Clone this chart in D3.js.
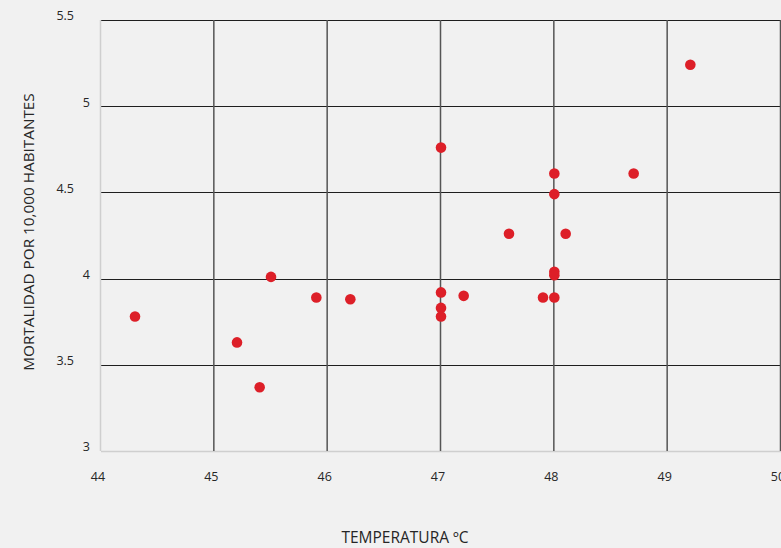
<!DOCTYPE html>
<html>
<head>
<meta charset="utf-8">
<script src="https://cdn.jsdelivr.net/npm/d3@7"></script>
<style>
  html, body { margin: 0; padding: 0; background: #f1f1f1; }
  svg { display: block; }
  text { font-family: "Open Sans", "Noto Sans", sans-serif; fill: #262626; }
</style>
</head>
<body>
<svg id="chart" width="781" height="548"></svg>
<script>
// Temperatura máxima (ºC) frente a mortalidad por 10,000 habitantes
const temperatura = [44.3, 45.2, 45.4, 45.5, 45.9, 46.2, 47.0, 47.0, 47.0, 47.0, 47.2,
                     47.6, 47.9, 48.0, 48.0, 48.1, 48.0, 48.0, 48.0, 48.7, 49.2];
const mortalidad  = [3.78, 3.63, 3.37, 4.01, 3.89, 3.88, 4.76, 3.92, 3.83, 3.78, 3.90,
                     4.26, 3.89, 4.61, 4.49, 4.26, 4.04, 4.02, 3.89, 4.61, 5.24];
const xTicks = [44, 45, 46, 47, 48, 49, 50];
const yTicks = [3, 3.5, 4, 4.5, 5, 5.5];
const xTitle = "TEMPERATURA ºC";
const yTitle = "MORTALIDAD POR 10,000 HABITANTES";

const svg = d3.select("#chart");
const plotLeft = 101, plotRight = 781, plotTop = 20, plotBottom = 451;

const x = d3.scaleLinear().domain([44, 50]).range([plotLeft, plotRight]);
const y = d3.scaleLinear().domain([3, 5.5]).range([plotBottom, plotTop]);

// horizontal grid lines
svg.append("g").selectAll("line")
  .data(yTicks)
  .join("line")
  .attr("x1", plotLeft).attr("x2", plotRight)
  .attr("y1", d => Math.round(y(d)) + 0.5).attr("y2", d => Math.round(y(d)) + 0.5)
  .attr("stroke", d => d === 3 ? "#cfcfcf" : "#1e1e1e")
  .attr("stroke-width", d => d === 3 ? 1.5 : 1);

// vertical grid lines
svg.append("g").selectAll("line")
  .data(xTicks)
  .join("line")
  .attr("x1", d => x(d) - 0.5).attr("x2", d => x(d) - 0.5)
  .attr("y1", plotTop).attr("y2", plotBottom)
  .attr("stroke", d => d === 44 ? "#cfcfcf" : "#555")
  .attr("stroke-width", 1.5);

// y tick labels
svg.append("g").selectAll("text")
  .data(yTicks)
  .join("text")
  .attr("x", d => Number.isInteger(d) ? 90 : 74)
  .attr("y", d => y(d) - 3)
  .attr("text-anchor", "end")
  .attr("dominant-baseline", "middle")
  .attr("font-size", 12.5)
  .text(d => d);

// x tick labels
svg.append("g").selectAll("text")
  .data(xTicks)
  .join("text")
  .attr("x", d => x(d) - 3)
  .attr("y", 481)
  .attr("text-anchor", "middle")
  .attr("font-size", 12.5)
  .text(d => d);

// axis titles
svg.append("text")
  .attr("x", 405).attr("y", 543)
  .attr("text-anchor", "middle")
  .attr("font-size", 15.5)
  .text(xTitle);

svg.append("text")
  .attr("transform", "translate(34,232) rotate(-90)")
  .attr("text-anchor", "middle")
  .attr("font-size", 15.3)
  .text(yTitle);

// points
svg.append("g").selectAll("circle")
  .data(temperatura.map((t, i) => ({ t, m: mortalidad[i] })))
  .join("circle")
  .attr("cx", d => x(d.t))
  .attr("cy", d => y(d.m))
  .attr("r", 5.3)
  .attr("fill", "#dd1f28");
</script>
</body>
</html>
